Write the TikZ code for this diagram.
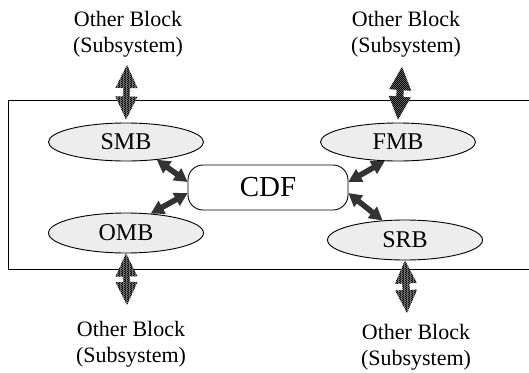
\documentclass[tikz,border=0pt]{standalone}
\usepackage{fontspec}
\setmainfont{Liberation Serif}
\usetikzlibrary{shapes.geometric,patterns,calc}
\pgfdeclarepatternformonly{finecheck}{\pgfpointorigin}{\pgfpoint{2.4pt}{2.4pt}}{\pgfpoint{2.4pt}{2.4pt}}{%
  \pgfpathrectangle{\pgfpointorigin}{\pgfpoint{1.2pt}{1.2pt}}%
  \pgfpathrectangle{\pgfpoint{1.2pt}{1.2pt}}{\pgfpoint{1.2pt}{1.2pt}}%
  \pgfusepath{fill}}
\tikzset{
  lbl/.style={align=center, font=\fontsize{22}{25.5}\selectfont, inner sep=0pt},
  blk/.style={ellipse, draw, line width=0.9pt, fill=black!7, minimum width=155pt,
    minimum height=38pt, inner sep=0pt, font=\fontsize{24}{28}\selectfont},
  core/.style={rectangle, rounded corners=15pt, draw, line width=0.9pt, fill=white,
    minimum width=160pt, minimum height=45pt, inner sep=0pt, font=\fontsize{29}{33}\selectfont},
  fat/.style n args={3}{to path={
    let \p1=(\tikztostart), \p2=(\tikztotarget),
        \n1={atan2(\y2-\y1,\x2-\x1)}, \n2={veclen(\x2-\x1,\y2-\y1)} in
    ([shift={(\p1)},rotate=\n1]0pt,0pt)
    -- ([shift={(\p1)},rotate=\n1]#1pt,#2pt)
    -- ([shift={(\p1)},rotate=\n1]#1pt,#3pt)
    -- ([shift={(\p1)},rotate=\n1]{\n2-#1pt},{#3pt})
    -- ([shift={(\p1)},rotate=\n1]{\n2-#1pt},{#2pt})
    -- ([shift={(\p1)},rotate=\n1]{\n2+0pt},0pt)
    -- ([shift={(\p1)},rotate=\n1]{\n2-#1pt},{-#2pt})
    -- ([shift={(\p1)},rotate=\n1]{\n2-#1pt},{-#3pt})
    -- ([shift={(\p1)},rotate=\n1]#1pt,-#3pt)
    -- ([shift={(\p1)},rotate=\n1]#1pt,-#2pt)
    -- cycle}},
  extarrow/.style={fat={23}{11}{3.5}, preaction={fill=black!55}, pattern=finecheck, pattern color=black},
  intarrow/.style={fat={13}{7.5}{2.8}, fill=black!80}
}
\begin{document}
\begin{tikzpicture}[x=1pt,y=-1pt]
\useasboundingbox (0,0) rectangle (529,372);
\node[draw, line width=0.9pt, anchor=north west, minimum width=526pt, minimum height=169pt, inner sep=0pt] (frame) at (8,100) {};

\node[lbl] (lt) at (128,34) {Other Block\\(Subsystem)};
\node[lbl] (rt) at (406,34) {Other Block\\(Subsystem)};
\node[lbl] (lb) at (131,344) {Other Block\\(Subsystem)};
\node[lbl] (rb) at (416,347) {Other Block\\(Subsystem)};

\node[blk] (smb) at (126,142) {SMB};
\node[blk] (fmb) at (398,142) {FMB};
\node[blk, minimum height=40pt] (omb) at (126,233) {OMB};
\node[blk, minimum height=40pt] (srb) at (405,240) {SRB};
\node[core] (cdf) at (268,187.5) {CDF};

\coordinate (tla) at (127,65);
\coordinate (tra) at (402,67);
\coordinate (bla) at (127,305);
\coordinate (bra) at (407,313);

\path[extarrow] (tla) to ($(smb.north)+(0,-3)$);
\path[extarrow] (tra) to ($(fmb.north)+(0,-3)$);
\path[extarrow] (omb.south) to (bla);
\path[extarrow] (srb.south) to (bra);

\path[intarrow] (smb.-30) to (cdf.176);
\path[intarrow] (omb.38) to (cdf.184);
\path[intarrow] (fmb.235) to (cdf.4);
\path[intarrow] (srb.139) to (cdf.-4);
\end{tikzpicture}
\end{document}
